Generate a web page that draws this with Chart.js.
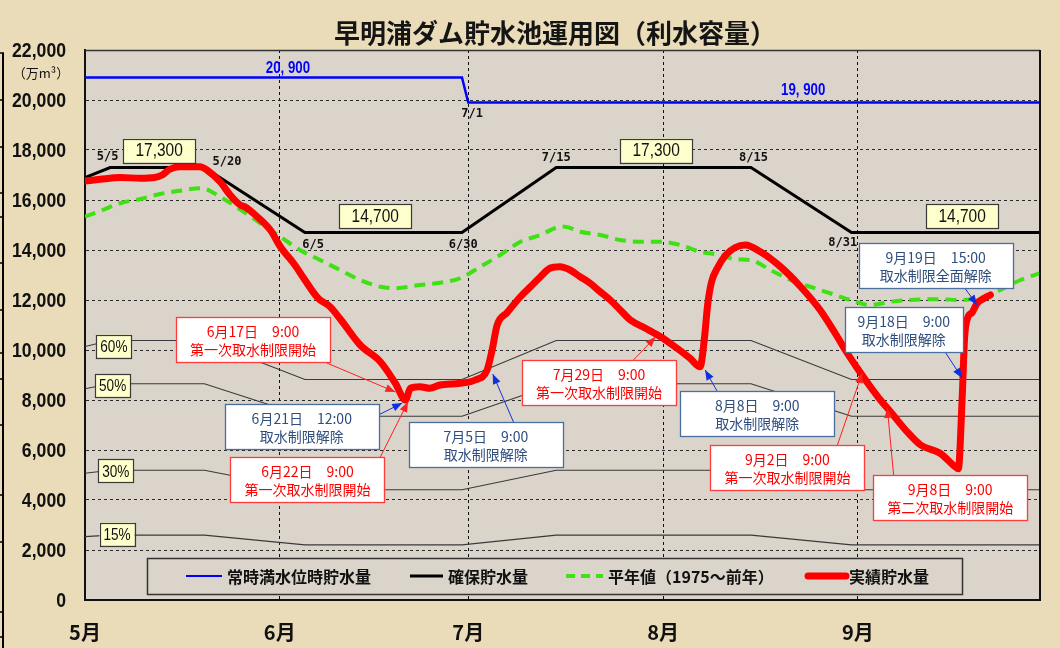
<!DOCTYPE html>
<html><head><meta charset="utf-8">
<script src="https://cdn.jsdelivr.net/npm/chart.js@4.4.1/dist/chart.umd.min.js"></script>
<style>
html,body{margin:0;padding:0;background:#EADCB9;}
#wrap{width:1060px;height:648px;position:relative;}
canvas{display:block;}
</style></head><body>
<div id="wrap"><canvas id="c" width="1060" height="648"></canvas></div>
<script>
// ---------- data ----------
const titleText = '早明浦ダム貯水池運用図（利水容量）';
const unitText = '（万m³）';
const monthStarts = [0, 31, 61, 92, 123];
const monthLabels = ['5月', '6月', '7月', '8月', '9月'];
const yTickValues = [0, 2000, 4000, 6000, 8000, 10000, 12000, 14000, 16000, 18000, 20000, 22000];
const yTickLabels = ['0', '2,000', '4,000', '6,000', '8,000', '10,000', '12,000', '14,000', '16,000', '18,000', '20,000', '22,000'];

const fullDays = [0, 60, 61, 152];
const fullValues = [20900, 20900, 19900, 19900];

const secDays = [0, 4, 19, 35, 60, 75, 106, 122, 152];
const secValues = [16900, 17300, 17300, 14700, 14700, 17300, 17300, 14700, 14700];
const pct60 = [10140, 10380, 10380, 8820, 8820, 10380, 10380, 8820, 8820];
const pct50 = [8450, 8650, 8650, 7350, 7350, 8650, 8650, 7350, 7350];
const pct30 = [5070, 5190, 5190, 4410, 4410, 5190, 5190, 4410, 4410];
const pct15 = [2535, 2595, 2595, 2205, 2205, 2595, 2595, 2205, 2205];

const normDays = [0, 2.8, 5.6, 8.8, 11.9, 15.1, 18.3, 19.1, 21.5, 23.9, 27.9, 31.1, 34.2, 37.4, 40.6, 43.8, 47, 49.4, 53.3, 56.5, 59.7, 62.9, 66.1, 69.3, 72.5, 74.9, 76.4, 78.8, 82, 85.2, 88.4, 91.6, 94.7, 97.9, 101.1, 103.5, 105.9, 109.1, 112.3, 115.4, 118.6, 121.8, 125, 128.2, 131.4, 136.1, 139.3, 143.3, 145.7, 148.9, 152];
const normValues = [15330, 15600, 15870, 16040, 16240, 16370, 16470, 16450, 16130, 15760, 15070, 14530, 14000, 13600, 13200, 12800, 12530, 12470, 12600, 12690, 12870, 13330, 13800, 14330, 14600, 14880, 14930, 14730, 14600, 14400, 14330, 14330, 14200, 13930, 13800, 13630, 13600, 13200, 12800, 12530, 12270, 12000, 11800, 11930, 12000, 12030, 12000, 12130, 12400, 12800, 13070];

const actDays = [0, 2.4, 5.6, 8.8, 11.1, 12.3, 13.5, 15.1, 18.3, 19.4, 21.5, 23.1, 24.7, 25.5, 27.1, 29.5, 31.1, 33.4, 35, 37.1, 39, 40.6, 43.8, 47, 49.4, 51, 51.8, 53.3, 54.9, 56.5, 59.7, 62.1, 64.0, 64.8, 65.6, 67.2, 69.3, 70.9, 72.5, 74, 75.6, 77.2, 78.8, 80.4, 82, 83.6, 85.2, 86.8, 89.2, 91.6, 93.9, 96.3, 97.9, 98.6, 99.1, 99.7, 100.7, 102.0, 103.5, 105.1, 107.5, 110.7, 113.9, 117, 119.4, 121, 122.9, 125, 126.6, 128.2, 130.6, 133, 136.1, 138.5, 139.0, 139.6, 140.0, 140.5, 141.2, 142.0, 143.0, 144.1];
const actValues = [16760, 16830, 16900, 16870, 16900, 17000, 17230, 17330, 17330, 17200, 16730, 16200, 15800, 15720, 15400, 14800, 14130, 13400, 12800, 12070, 11730, 11250, 10200, 9530, 8670, 8000, 8470, 8530, 8470, 8600, 8670, 8800, 9200, 10000, 11000, 11500, 12130, 12530, 12930, 13270, 13330, 13200, 12930, 12670, 12330, 12000, 11600, 11200, 10870, 10530, 10130, 9670, 9330, 10500, 11800, 12700, 13300, 13800, 14100, 14200, 13930, 13330, 12530, 11600, 10670, 10000, 9280, 8530, 8000, 7530, 6800, 6200, 5870, 5330, 5250, 8000, 10500, 11300, 11500, 11870, 12050, 12200];

const seriesNames = ['常時満水位時貯水量', '確保貯水量', '平年値（1975～前年）', '実績貯水量'];

const fullLabels = ['20, 900', '19, 900'];
const secValueLabels = ['17,300', '14,700', '17,300', '14,700'];
const secDateLabels = ['5/5', '5/20', '6/5', '6/30', '7/15', '8/15', '8/31', '7/1'];
const pctLabels = ['60%', '50%', '30%', '15%'];

const eventDates = ['6月17日　9:00', '6月21日　12:00', '6月22日　9:00', '7月5日　9:00', '7月29日　9:00', '8月8日　9:00', '9月2日　9:00', '9月8日　9:00', '9月18日　9:00', '9月19日　15:00'];
const eventTexts = ['第一次取水制限開始', '取水制限解除', '第一次取水制限開始', '取水制限解除', '第一次取水制限開始', '取水制限解除', '第一次取水制限開始', '第二次取水制限開始', '取水制限解除', '取水制限全面解除'];
const eventKinds = ['start', 'end', 'start', 'end', 'start', 'end', 'start', 'start', 'end', 'end'];

// ---------- layout (placement of labels, in axis units) ----------
const fullLabelPos = [[32.3, 21280], [114.3, 20400]];
const secValuePos = [[11.8, 17980], [46.2, 15360], [90.9, 17980], [139.6, 15360]];
const secDatePos = [[3.6, 17720], [22.6, 17520], [36.3, 14200], [60.2, 14200], [75, 17680], [106.4, 17680], [120.6, 14280], [61.6, 19440]];
const pctPos = [[4.6, 10160], [4.4, 8580], [4.9, 5160], [5.1, 2640]];
const eventBox = [[26.75, 10420, 154], [34.5, 6940, 154], [35.4, 4840, 154], [63.8, 6220, 154], [81.8, 8720, 154], [107, 7460, 154], [111.8, 5320, 154], [137.7, 4120, 154], [130.3, 10800, 118], [135.4, 13400, 154]];
const eventArrow = [
  [38.5, 9480, 49.4, 8320], [46.7, 7400, 50.5, 7880], [47.0, 5720, 51.4, 7920], [68.2, 7120, 64.9, 9040],
  [87.3, 9600, 90.8, 10520], [100.6, 8360, 98.7, 9200], [119.7, 6160, 123.7, 9080], [128.7, 5000, 127.7, 7680],
  [136.9, 9920, 139.6, 8880], [139.9, 12520, 142.0, 11800]
];

const toXY = (xs, ys) => xs.map((x, i) => ({x: x, y: ys[i]}));

const JP = '"Noto Sans CJK JP", "Noto Sans", sans-serif';
const SANS = '"Liberation Sans", Arial, sans-serif';
const MONO = '"DejaVu Sans Mono", monospace';

function narrowText(ctx, text, x, y, sx, align) {
  ctx.save();
  ctx.translate(x, y);
  ctx.scale(sx, 1);
  ctx.textAlign = align || 'center';
  ctx.textBaseline = 'middle';
  ctx.fillText(text, 0, 0);
  ctx.restore();
}

function arrow(ctx, x1, y1, x2, y2, color) {
  ctx.strokeStyle = color; ctx.fillStyle = color; ctx.lineWidth = 1;
  ctx.beginPath(); ctx.moveTo(x1, y1); ctx.lineTo(x2, y2); ctx.stroke();
  const ang = Math.atan2(y2 - y1, x2 - x1), L = 10, W = 4;
  const bx = x2 - L * Math.cos(ang), by = y2 - L * Math.sin(ang);
  ctx.beginPath(); ctx.moveTo(x2, y2);
  ctx.lineTo(bx + W * Math.sin(ang), by - W * Math.cos(ang));
  ctx.lineTo(bx - W * Math.sin(ang), by + W * Math.cos(ang));
  ctx.closePath(); ctx.fill();
}

function labelBox(ctx, cx, cy, w, h, text, font, sx) {
  ctx.fillStyle = '#FFFFCC';
  ctx.fillRect(cx - w / 2, cy - h / 2, w, h);
  ctx.strokeStyle = '#3a3a3a'; ctx.lineWidth = 1.2;
  ctx.strokeRect(Math.round(cx - w / 2) + 0.5, Math.round(cy - h / 2) + 0.5, w, h);
  ctx.fillStyle = '#111'; ctx.font = font;
  narrowText(ctx, text, cx, cy + 1, sx, 'center');
}

const deco = {
  id: 'deco',
  beforeDraw(chart) {
    const {ctx, chartArea: a} = chart;
    ctx.save();
    ctx.fillStyle = '#EADCB9'; ctx.fillRect(0, 0, chart.width, chart.height);
    ctx.fillStyle = '#DAD4CA'; ctx.fillRect(a.left, a.top, a.right - a.left, a.bottom - a.top);
    ctx.restore();
  },
  afterDatasetsDraw(chart) {
    const {ctx, chartArea: a} = chart;
    const X = v => chart.scales.x.getPixelForValue(v);
    const Y = v => chart.scales.y.getPixelForValue(v);
    ctx.save();
    // frame top / right
    ctx.strokeStyle = '#333'; ctx.lineWidth = 1.5;
    ctx.beginPath(); ctx.moveTo(a.left, a.top + 0.5); ctx.lineTo(a.right, a.top + 0.5); ctx.stroke();
    ctx.strokeStyle = '#111'; ctx.lineWidth = 2;
    ctx.beginPath(); ctx.moveTo(a.right, a.top); ctx.lineTo(a.right, a.bottom); ctx.stroke();

    // blue labels
    ctx.fillStyle = '#0000FF'; ctx.font = 'bold 17px ' + SANS;
    fullLabels.forEach((t, i) => narrowText(ctx, t, X(fullLabelPos[i][0]), Y(fullLabelPos[i][1]), 0.78, 'center'));

    // date labels on secured line
    ctx.fillStyle = '#111'; ctx.font = 'bold 12px ' + MONO;
    ctx.textAlign = 'center'; ctx.textBaseline = 'middle';
    secDateLabels.forEach((t, i) => ctx.fillText(t, X(secDatePos[i][0]), Y(secDatePos[i][1])));

    // value boxes
    secValueLabels.forEach((t, i) => labelBox(ctx, X(secValuePos[i][0]), Y(secValuePos[i][1]), 72, 24, t, '18px ' + SANS, 0.86));
    pctLabels.forEach((t, i) => labelBox(ctx, X(pctPos[i][0]), Y(pctPos[i][1]), 35, 23, t, '17px ' + SANS, 0.8));

    // event callouts
    eventDates.forEach((d, i) => {
      const isStart = eventKinds[i] === 'start';
      const border = isStart ? '#FF3B3B' : '#4A6E9E';
      const txt = isStart ? '#FF0000' : '#2F4D7E';
      const arr = isStart ? '#FF2020' : '#1030E0';
      const ar = eventArrow[i];
      arrow(ctx, X(ar[0]), Y(ar[1]), X(ar[2]), Y(ar[3]), arr);
      const cx = X(eventBox[i][0]), cy = Y(eventBox[i][1]), w = eventBox[i][2], h = 45;
      const l = Math.round(cx - w / 2) + 0.5, t = Math.round(cy - h / 2) + 0.5;
      ctx.fillStyle = '#FFFFFF'; ctx.fillRect(l, t, w, h);
      ctx.strokeStyle = border; ctx.lineWidth = 1.3; ctx.strokeRect(l, t, w, h);
      ctx.fillStyle = txt; ctx.font = '14px ' + JP;
      ctx.textAlign = 'center'; ctx.textBaseline = 'middle';
      ctx.fillText(d, cx, t + 14);
      ctx.fillText(eventTexts[i], cx, t + 32);
    });

    // legend
    const lx = a.left + 62, ly = a.bottom - 42, lw = 815, lh = 36, my = ly + lh / 2;
    ctx.fillStyle = '#DAD4CA'; ctx.fillRect(lx, ly, lw, lh);
    ctx.strokeStyle = '#333'; ctx.lineWidth = 1.5; ctx.strokeRect(lx + 0.5, ly + 0.5, lw, lh);
    const items = [
      {s: 39, e: 75, tx: 80, color: '#0000FF', w: 2, dash: []},
      {s: 263, e: 296, tx: 301, color: '#000', w: 3, dash: []},
      {s: 419, e: 456, tx: 461, color: '#3FE014', w: 4, dash: [9, 6]},
      {s: 661, e: 699, tx: 702, color: '#FF0000', w: 7, dash: []}
    ];
    items.forEach((it, i) => {
      ctx.save();
      ctx.strokeStyle = it.color; ctx.lineWidth = it.w; ctx.setLineDash(it.dash); ctx.lineCap = i === 3 ? 'round' : 'butt';
      ctx.beginPath(); ctx.moveTo(lx + it.s, my); ctx.lineTo(lx + it.e, my); ctx.stroke();
      ctx.restore();
      ctx.fillStyle = '#111'; ctx.font = 'bold 16px ' + JP;
      ctx.textAlign = 'left'; ctx.textBaseline = 'middle';
      ctx.fillText(seriesNames[i], lx + it.tx, my + 1);
    });
    ctx.restore();
  },
  afterDraw(chart) {
    const {ctx, chartArea: a} = chart;
    const Y = v => chart.scales.y.getPixelForValue(v);
    ctx.save();
    ctx.fillStyle = '#151515'; ctx.font = 'bold 26px ' + JP;
    ctx.textAlign = 'center'; ctx.textBaseline = 'middle';
    ctx.fillText(titleText, 555, 33);
    ctx.font = '13px ' + JP; ctx.fillStyle = '#111';
    ctx.fillText(unitText, 41, 73);
    // y tick labels (condensed)
    ctx.font = 'bold 21px ' + SANS; ctx.fillStyle = '#111';
    yTickValues.forEach((v, i) => narrowText(ctx, yTickLabels[i], a.left - 19, Y(v) + 1, 0.84, 'right'));
    // ruler at far left
    ctx.strokeStyle = '#000'; ctx.lineWidth = 2;
    ctx.beginPath(); ctx.moveTo(3, 53); ctx.lineTo(3, chart.height); ctx.stroke();
    ctx.lineWidth = 1.5;
    [53, 100, 147, 193, 217, 263, 310, 353, 379, 425, 495, 542, 612, 637].forEach(y => {
      ctx.beginPath(); ctx.moveTo(0, y); ctx.lineTo(4, y); ctx.stroke();
    });
    ctx.restore();
  }
};

new Chart(document.getElementById('c'), {
  type: 'line',
  data: {
    datasets: [
      {label: seriesNames[3], data: toXY(actDays, actValues), borderColor: '#FF0000', borderWidth: 7, pointRadius: 0, cubicInterpolationMode: 'monotone', borderCapStyle: 'round', borderJoinStyle: 'round'},
      {label: seriesNames[2], data: toXY(normDays, normValues), borderColor: '#3FE014', borderWidth: 4, borderDash: [11, 7], pointRadius: 0, cubicInterpolationMode: 'monotone'},
      {label: seriesNames[1], data: toXY(secDays, secValues), borderColor: '#000000', borderWidth: 3, pointRadius: 0, tension: 0},
      {label: seriesNames[0], data: toXY(fullDays, fullValues), borderColor: '#0000FF', borderWidth: 2.5, pointRadius: 0, tension: 0},
      {label: '60%', data: toXY(secDays, pct60), borderColor: '#3a3a3a', borderWidth: 1.2, pointRadius: 0, tension: 0},
      {label: '50%', data: toXY(secDays, pct50), borderColor: '#3a3a3a', borderWidth: 1.2, pointRadius: 0, tension: 0},
      {label: '30%', data: toXY(secDays, pct30), borderColor: '#3a3a3a', borderWidth: 1.2, pointRadius: 0, tension: 0},
      {label: '15%', data: toXY(secDays, pct15), borderColor: '#3a3a3a', borderWidth: 1.2, pointRadius: 0, tension: 0}
    ]
  },
  options: {
    responsive: false,
    animation: false,
    events: [],
    layout: {padding: {left: 0, right: 20, top: 50, bottom: 0}},
    plugins: {legend: {display: false}, tooltip: {enabled: false}, title: {display: false}},
    scales: {
      x: {
        type: 'linear', min: 0, max: 152,
        afterBuildTicks: s => { s.ticks = monthStarts.map(v => ({value: v})); },
        afterFit: s => { s.height = 48; },
        ticks: {
          autoSkip: false, maxRotation: 0, padding: 20, color: '#111',
          font: {family: JP, size: 20, weight: 'bold'},
          callback: v => monthLabels[monthStarts.indexOf(v)]
        },
        grid: {drawTicks: false, lineWidth: 1, color: c => (c.tick && c.tick.value === 0) ? 'rgba(0,0,0,0)' : '#111'},
        border: {display: true, color: '#111', width: 2, dash: [3, 3]}
      },
      y: {
        min: 0, max: 22000,
        afterBuildTicks: s => { s.ticks = yTickValues.map(v => ({value: v})); },
        afterFit: s => { s.width = 85; },
        ticks: {display: false},
        grid: {drawTicks: false, lineWidth: 1, color: c => (c.tick && c.tick.value === 0) ? 'rgba(0,0,0,0)' : '#2a2a2a'},
        border: {display: true, color: '#111', width: 2, dash: [3, 3]}
      }
    }
  },
  plugins: [deco]
});
</script>
</body></html>
